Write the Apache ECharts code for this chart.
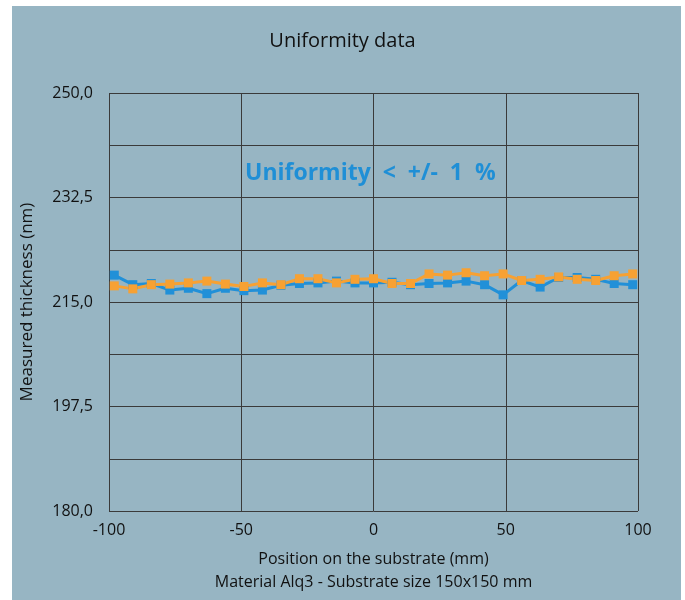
<!DOCTYPE html>
<html>
<head>
<meta charset="utf-8">
<script src="https://cdn.jsdelivr.net/npm/echarts@6/dist/echarts.min.js"></script>
<style>
    html, body { margin: 0; padding: 0; background: #ffffff; }
    #chart { width: 685px; height: 600px; }
</style>
</head>
<body>
<div id="chart"></div>
<script>
// positions on the substrate (mm)
const positions = [-98, -91, -84, -77, -70, -63, -56, -49, -42, -35, -28, -21, -14, -7, 0,
    7, 14, 21, 28, 35, 42, 49, 56, 63, 70, 77, 84, 91, 98];
// measured thickness (nm)
const blueThickness = [219.5, 217.9, 218.1, 217.0, 217.3, 216.4, 217.3, 216.9, 217.0, 217.8, 218.1, 218.2, 218.5, 218.2, 218.2,
    218.3, 217.9, 218.1, 218.2, 218.5, 217.9, 216.2, 218.6, 217.5, 219.1, 219.1, 218.8, 218.1, 217.9];
const orangeThickness = [217.7, 217.2, 217.9, 218.0, 218.2, 218.5, 218.0, 217.6, 218.2, 217.9, 218.9, 218.9, 218.2, 218.8, 218.9,
    218.1, 218.1, 219.7, 219.5, 219.9, 219.4, 219.7, 218.6, 218.8, 219.2, 218.8, 218.6, 219.4, 219.7];
const xTicks = [-100, -50, 0, 50, 100];
const yMin = 180, yMax = 250, yStep = 8.75;

const font = '"Open Sans", "Noto Sans", sans-serif';
const gridColor = '#3a3a3a';

const myChart = echarts.init(document.getElementById('chart'));

const option = {
    backgroundColor: '#ffffff',
    animation: false,
    textStyle: { fontFamily: font },
    title: {
        text: 'Uniformity data',
        left: 'center',
        top: 26,
        textStyle: { fontFamily: font, fontSize: 20, fontWeight: 'normal', color: '#111' },
    },
    graphic: [
        {
            type: 'rect',
            z: -10,
            shape: { x: 12, y: 6, width: 669, height: 594 },
            style: { fill: '#97b5c3' },
        },
        {
            type: 'text',
            z: 10,
            left: 245,
            top: 162,
            style: {
                text: 'Uniformity  <  +/-  1  %',
                font: 'bold 23px ' + font,
                fill: '#1f8fd6',
            },
        },
    ],
    grid: {
        left: 109,
        right: 47,
        top: 93,
        bottom: 89,
    },
    xAxis: {
        type: 'value',
        min: xTicks[0],
        max: xTicks[xTicks.length - 1],
        interval: 50,
        name: 'Position on the substrate (mm)\nMaterial Alq3 - Substrate size 150x150 mm',
        nameLocation: 'middle',
        nameGap: 37,
        nameTextStyle: { fontFamily: font, fontSize: 16, color: '#111', lineHeight: 23, verticalAlign: 'top' },
        axisLine: { show: false },
        axisTick: { show: false },
        axisLabel: { fontFamily: font, fontSize: 16, color: '#111', margin: 11 },
        splitLine: { show: true, lineStyle: { color: gridColor, width: 1 } },
    },
    yAxis: {
        type: 'value',
        min: yMin,
        max: yMax,
        interval: yStep,
        name: 'Measured thickness (nm)',
        nameLocation: 'middle',
        nameGap: 73,
        nameTextStyle: { fontFamily: font, fontSize: 17, color: '#111' },
        axisLine: { show: false },
        axisTick: { show: false },
        axisLabel: {
            fontFamily: font,
            fontSize: 16,
            color: '#111',
            margin: 16,
            formatter: function (v) {
                const k = Math.round((v - yMin) / yStep);
                return k % 2 === 0 ? v.toFixed(1).replace('.', ',') : '';
            },
        },
        splitLine: { show: true, lineStyle: { color: gridColor, width: 1 } },
    },
    series: [
        {
            name: 'blue',
            type: 'line',
            symbol: 'rect',
            symbolSize: 9,
            color: '#2190d8',
            lineStyle: { width: 3 },
            data: positions.map((x, i) => [x, blueThickness[i]]),
        },
        {
            name: 'orange',
            type: 'line',
            symbol: 'rect',
            symbolSize: 9,
            color: '#f7a133',
            lineStyle: { width: 3 },
            data: positions.map((x, i) => [x, orangeThickness[i]]),
        },
    ],
};

myChart.setOption(option);
</script>
</body>
</html>
